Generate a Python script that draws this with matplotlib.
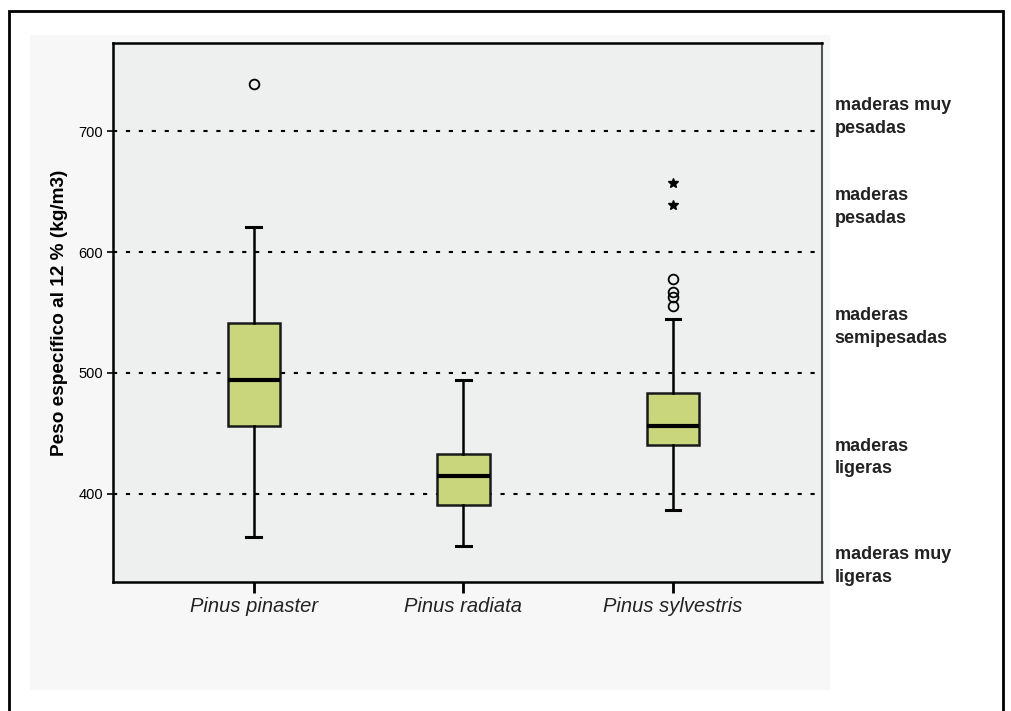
import matplotlib.pyplot as plt
import matplotlib.transforms as mtransforms
from matplotlib.patches import Rectangle
import numpy as np

plt.rcParams['font.family'] = ['Liberation Sans', 'DejaVu Sans']

species = ['Pinus pinaster', 'Pinus radiata', 'Pinus sylvestris']
whisker_low = [364, 357, 387]
q1 = [456, 391, 440]
median = [494, 415, 456]
q3 = [541, 433, 483]
whisker_high = [621, 494, 545]
outliers = [[739], [], [578, 567, 563, 555]]
extremes = [[], [], [657, 639]]

class_lines = [400, 500, 600, 700]
class_labels = ['maderas muy\npesadas', 'maderas\npesadas', 'maderas\nsemipesadas',
                'maderas\nligeras', 'maderas muy\nligeras']
class_label_y = [712, 637, 538, 430, 340]

box_color = '#c9d67c'

fig = plt.figure(figsize=(10.11, 7.11), dpi=100)

# faint grey panel behind the chart and the outer frame
fig.patches.append(Rectangle((30 / 1011, 1 - 690 / 711), 800 / 1011, 655 / 711,
                             transform=fig.transFigure, facecolor='#f7f7f7',
                             edgecolor='none', zorder=-2))
fig.patches.append(Rectangle((9 / 1011, -0.01), 994 / 1011, 1 - 11 / 711 + 0.01,
                             transform=fig.transFigure, facecolor='none',
                             edgecolor='black', linewidth=2, zorder=-1))

ax = fig.add_axes([0.1118, 0.1814, 0.7012, 0.7581])
ax.set_facecolor('#eef0f0')

for y in class_lines:
    ax.axhline(y, color='black', linestyle=(0, (2, 4.2)), linewidth=1.5, zorder=1)

stats = []
for i in range(len(species)):
    stats.append({'whislo': whisker_low[i], 'q1': q1[i], 'med': median[i],
                  'q3': q3[i], 'whishi': whisker_high[i],
                  'fliers': np.array(outliers[i])})

positions = np.arange(1, len(species) + 1)
ax.bxp(stats, positions=positions, widths=0.25, patch_artist=True,
       showfliers=True, capwidths=0.07,
       boxprops=dict(facecolor=box_color, edgecolor='#1a1a1a', linewidth=1.8),
       medianprops=dict(color='black', linewidth=3),
       whiskerprops=dict(color='black', linewidth=1.8),
       capprops=dict(color='black', linewidth=2.2),
       flierprops=dict(marker='o', markersize=7, markerfacecolor='none',
                       markeredgecolor='black', markeredgewidth=1.3),
       zorder=3)

for pos, ext in zip(positions, extremes):
    if ext:
        ax.plot([pos] * len(ext), ext, linestyle='none', marker='*', markersize=7,
                color='black', zorder=4)

ax.set_xlim(0.329, 3.71)
ax.set_ylim(327, 773)
ax.set_yticks(class_lines)
ax.set_xticks(positions)
ax.set_xticklabels(species, fontsize=14.5, fontstyle='italic', color='#222222')
ax.tick_params(axis='y', labelsize=10.5, length=4, width=1.2, pad=3)
ax.tick_params(axis='x', length=8, width=2, pad=3)
ax.set_ylabel('Peso específico al 12 % (kg/m3)', fontsize=13.7, fontweight='bold',
              labelpad=8)

for side in ['left', 'bottom', 'top']:
    ax.spines[side].set_linewidth(1.8)
ax.spines['right'].set_linewidth(1.5)
ax.spines['right'].set_color('#555555')

trans = mtransforms.blended_transform_factory(ax.transAxes, ax.transData)
for label, y in zip(class_labels, class_label_y):
    ax.text(1.018, y, label, transform=trans, ha='left', va='center',
            fontsize=13, fontweight='bold', color='#222222', linespacing=1.45,
            clip_on=False)

fig.savefig('out.png', dpi=100, facecolor='white')
